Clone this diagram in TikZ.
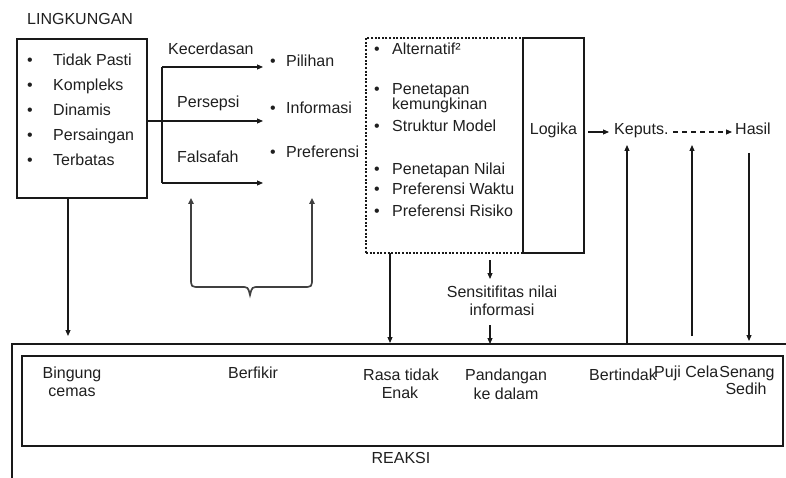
\documentclass[tikz,border=0pt]{standalone}
\usepackage{fontspec}
\setmainfont{Liberation Sans}
\usetikzlibrary{arrows.meta}
\begin{document}
\begin{tikzpicture}[x=1pt,y=-1pt,
  txt/.style={inner sep=0pt, anchor=base west, font=\fontsize{16}{18}\selectfont, text=black!88},
  ctxt/.style={txt, anchor=base},
  ln/.style={line width=1.1pt, draw=black!90},
  arr/.style={ln, -{Triangle[length=6pt,width=5pt]}},
  boxshape/.style={draw=black!90, line width=1.1pt, inner sep=0pt, minimum width=#1},
  brline/.style={line width=1.7pt, draw=black!75, {Triangle[length=6pt,width=5.5pt]}-{Triangle[length=6pt,width=5.5pt]}}
]
\useasboundingbox (0,0) rectangle (786,478);

% ---------- LINGKUNGAN ----------
\node[txt] (ling) at (27,25) {LINGKUNGAN};
\node[boxshape=130pt, minimum height=159pt] (lbox) at (82,118.5) {};
\foreach \t/\y/\n in {Tidak Pasti/66/a, Kompleks/91/b, Dinamis/116/c, Persaingan/141/d, Terbatas/166/e}{
  \node[ctxt] (lb\n) at (30,\y) {•};
  \node[txt] (lt\n) at (53,\y) {\t};
}

% ---------- branches ----------
\coordinate (brA) at (162,67);
\coordinate (brB) at (162,183);
\coordinate (lout) at (147,121);
\coordinate (tipA) at (263,67);
\coordinate (tipM) at (263,121);
\coordinate (tipB) at (263,183);
\draw[ln] (brA) -- (brB);
\draw[arr] (brA) -- (tipA);
\draw[arr] (lout) -- (tipM);
\draw[arr] (brB) -- (tipB);
\node[txt] (kec) at (168,55) {Kecerdasan};
\node[txt] (per) at (177,108) {Persepsi};
\node[txt] (fal) at (177,163) {Falsafah};

\foreach \t/\y/\n in {Pilihan/67/a, Informasi/114/b, Preferensi/158/c}{
  \node[ctxt] (mb\n) at (273,\y) {•};
  \node[txt] (mt\n) at (286,\y) {\t};
}

% ---------- brace ----------
\coordinate (brL) at (191,198);
\coordinate (brR) at (312,198);
\draw[brline] (brL) -- (191,278) .. controls (191,287) .. (200,287) -- (241,287)
  .. controls (248,287) .. (250,295) .. controls (252,287) .. (259,287) -- (303,287)
  .. controls (312,287) .. (312,278) -- (brR);

% ---------- dashed box and Logika ----------
\node[boxshape=157pt, minimum height=215pt, dash pattern=on 2pt off 1.6pt] (dbox) at (444.5,145.5) {};
\node[boxshape=61pt, minimum height=215pt] (lgbox) at (553.5,145.5) {};
\foreach \t/\y/\n in {Alternatif²/55/a, Penetapan/95/b, Struktur Model/132/d, Penetapan Nilai/175/e, Preferensi Waktu/195/f, Preferensi Risiko/217/g}{
  \node[ctxt] (db\n) at (377,\y) {•};
  \node[txt] (dt\n) at (392,\y) {\t};
}
\node[txt] (dtc) at (392,110) {kemungkinan};
\node[ctxt] (logika) at (553.5,135) {Logika};

\node[txt] (keputs) at (614,135) {Keputs.};
\node[txt] (hasil) at (735,135) {Hasil};
\coordinate (lgA) at (588,132);
\coordinate (lgB) at (609,132);
\draw[arr] (lgA) -- (lgB);
\coordinate (kpA) at (673,132);
\coordinate (kpB) at (732,132);
\draw[arr, dash pattern=on 5pt off 4pt] (kpA) -- (kpB);

% ---------- sensitivity ----------
\coordinate (sA) at (490,260);
\coordinate (sB) at (490,279);
\draw[arr] (sA) -- (sB);
\node[ctxt] (sens1) at (502,297) {Sensitifitas nilai};
\node[ctxt] (sens2) at (502,315) {informasi};
\coordinate (sC) at (490,325);
\coordinate (sD) at (490,344);
\draw[arr] (sC) -- (sD);

% ---------- down / up arrows ----------
\coordinate (lA) at (68,198);
\coordinate (lB) at (68,336);
\draw[arr] (lA) -- (lB);
\coordinate (dA) at (390,253);
\coordinate (dB) at (390,343);
\draw[arr] (dA) -- (dB);
\coordinate (u1A) at (627,344);
\coordinate (u1B) at (627,145);
\draw[arr] (u1A) -- (u1B);
\coordinate (u2A) at (692,336);
\coordinate (u2B) at (692,145);
\draw[arr] (u2A) -- (u2B);
\coordinate (hA) at (749,153);
\coordinate (hB) at (749,341);
\draw[arr] (hA) -- (hB);

% ---------- REAKSI ----------
\coordinate (oBL) at (12,478);
\coordinate (oTL) at (12,344);
\coordinate (oTR) at (786,344);
\draw[ln] (oBL) -- (oTL) -- (oTR);
\node[boxshape=761pt, minimum height=90pt] (inbox) at (402.5,401) {};
\node[ctxt] (reaksi) at (401,463) {REAKSI};

\node[ctxt] (r1a) at (72,378) {Bingung};
\node[ctxt] (r1b) at (72,396) {cemas};
\node[ctxt] (r2) at (253,378) {Berfikir};
\node[ctxt] (r3a) at (401,380) {Rasa tidak};
\node[ctxt] (r3b) at (400,398) {Enak};
\node[ctxt] (r4a) at (506,380) {Pandangan};
\node[ctxt] (r4b) at (506,399) {ke dalam};
\node[txt] (r5) at (589,380) {Bertindak};
\node[txt] (r6) at (654,377) {Puji Cela};
\node[ctxt] (r7a) at (747,377) {Senang};
\node[ctxt] (r7b) at (746,394) {Sedih};
\end{tikzpicture}
\end{document}
